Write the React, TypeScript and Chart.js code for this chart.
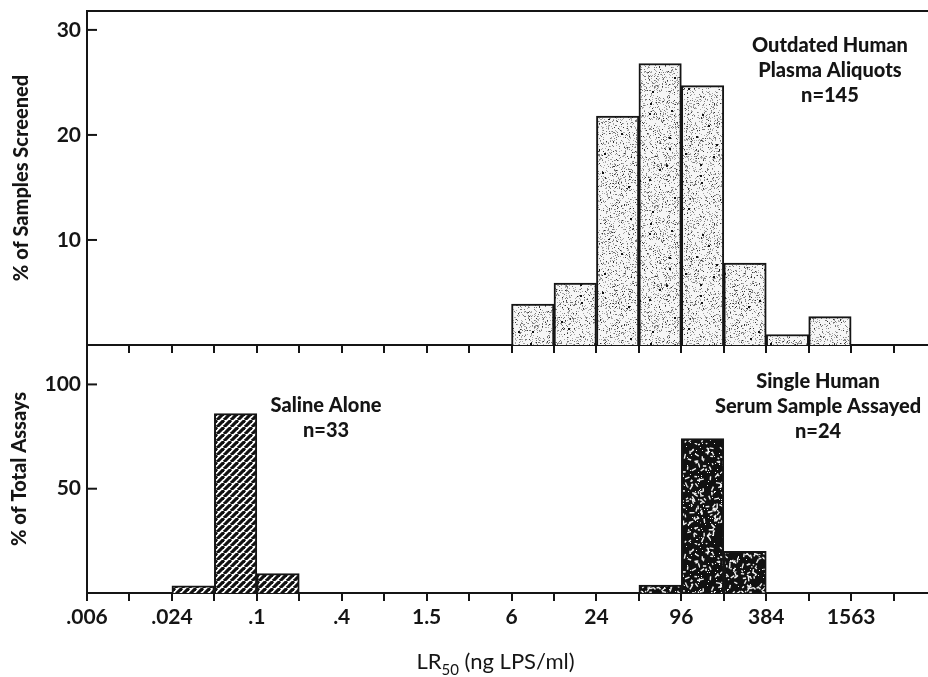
import React, { useEffect, useRef } from "react";
import { Chart, registerables } from "chart.js";

Chart.register(...registerables);

const FONT = "Lato";
const INK = "#151515";

// x axis: successive two-fold dilution steps (index = position on the axis)
const AXIS_STEPS = [".006", ".012", ".024", ".048", ".1", ".2", ".4", ".8", "1.5", "3", "6", "12", "24", "48", "96", "192", "384", "768", "1563", "3126"];
const LABELED_STEPS = [".006", ".024", ".1", ".4", "1.5", "6", "24", "96", "384", "1563"];
const X_RANGE_END = 19.81;

// top panel: outdated human plasma aliquots (bins given by lower edge)
const PLASMA_BINS = ["6", "12", "24", "48", "96", "192", "384", "768"];
const PLASMA_PCT = [3.9, 5.9, 21.8, 26.8, 24.7, 7.8, 1.0, 2.7];

// bottom panel
const SALINE_BINS = [".024", ".048", ".1"];
const SALINE_PCT = [3.4, 86, 9.3];
const SERUM_BINS = ["48", "96", "192"];
const SERUM_PCT = [3.8, 74, 20];

const TOP_Y_TICKS = [10, 20, 30];
const TOP_Y_MAX = 31.8;
const BOTTOM_Y_TICKS = [50, 100];
const BOTTOM_Y_MAX = 118.9;

const PLASMA_NOTE = ["Outdated Human", "Plasma Aliquots", "n=145"];
const SALINE_NOTE = ["Saline Alone", "n=33"];
const SERUM_NOTE = ["Single Human", "Serum Sample Assayed", "n=24"];

function rng(seed: number) {
  let s = seed >>> 0;
  return () => {
    s = (Math.imul(s, 1664525) + 1013904223) >>> 0;
    return s / 4294967296;
  };
}

function stipplePattern(ctx: CanvasRenderingContext2D) {
  const c = document.createElement("canvas");
  c.width = 120; c.height = 120;
  const g = c.getContext("2d")!;
  g.fillStyle = "#f6f6f6";
  g.fillRect(0, 0, 120, 120);
  const r = rng(7);
  for (let i = 0; i < 3200; i++) {
    const v = r();
    g.fillStyle = v < 0.55 ? "#a8a8a8" : v < 0.88 ? "#777" : "#333";
    g.fillRect(Math.floor(r() * 120), Math.floor(r() * 120), 1, 1);
  }
  for (let i = 0; i < 30; i++) {
    g.fillStyle = "#111";
    g.fillRect(Math.floor(r() * 120), Math.floor(r() * 120), 2, 2);
  }
  return ctx.createPattern(c, "repeat")!;
}

function hatchPattern(ctx: CanvasRenderingContext2D) {
  const n = 7;
  const c = document.createElement("canvas");
  c.width = n; c.height = n;
  const g = c.getContext("2d")!;
  g.fillStyle = "#fff";
  g.fillRect(0, 0, n, n);
  g.strokeStyle = "#111";
  g.lineWidth = 3.2;
  for (const o of [-n, 0, n]) {
    g.beginPath();
    g.moveTo(o, n);
    g.lineTo(o + n, 0);
    g.stroke();
  }
  return ctx.createPattern(c, "repeat")!;
}

function speckPattern(ctx: CanvasRenderingContext2D) {
  const c = document.createElement("canvas");
  c.width = 100; c.height = 100;
  const g = c.getContext("2d")!;
  g.fillStyle = "#111";
  g.fillRect(0, 0, 100, 100);
  const r = rng(21);
  g.strokeStyle = "#f2f2f2";
  g.lineWidth = 1.4;
  for (let i = 0; i < 420; i++) {
    const x = r() * 100, y = r() * 100, a = r() * Math.PI * 2, l = 1 + r() * 4;
    g.beginPath();
    g.moveTo(x, y);
    g.lineTo(x + Math.cos(a) * l, y + Math.sin(a) * l);
    g.stroke();
  }
  g.fillStyle = "#f2f2f2";
  for (let i = 0; i < 220; i++) g.fillRect(Math.floor(r() * 100), Math.floor(r() * 100), 1, 1);
  return ctx.createPattern(c, "repeat")!;
}

const toPoints = (bins: string[], pct: number[]) =>
  bins.map((b, i) => ({ x: AXIS_STEPS.indexOf(b) + 0.5, y: pct[i] }));

const framePlugin = {
  id: "frame",
  afterDraw(chart: any, _args: any, opts: any) {
    const { ctx, chartArea } = chart;
    const xs = chart.scales.x;
    const ys = chart.scales.y;
    ctx.save();
    ctx.strokeStyle = INK;
    ctx.lineWidth = 2;
    ys.ticks.forEach((t: any) => {
      const py = ys.getPixelForValue(t.value);
      ctx.beginPath();
      ctx.moveTo(chartArea.left, py);
      ctx.lineTo(chartArea.left + 10, py);
      ctx.stroke();
    });
    if (opts.topBorder) {
      ctx.beginPath();
      ctx.moveTo(chartArea.left - 1, chartArea.top);
      ctx.lineTo(chartArea.right, chartArea.top);
      ctx.stroke();
    }
    ctx.fillStyle = INK;
    ctx.font = `900 20px ${FONT}`;
    ctx.textAlign = "center";
    ctx.textBaseline = "middle";
    (opts.notes || []).forEach((n: any) => {
      const px = xs.getPixelForValue(n.x);
      const py = ys.getPixelForValue(n.y);
      n.lines.forEach((l: string, i: number) => ctx.fillText(l, px, py + i * 25));
    });
    if (opts.xTitle) {
      const big = `22px ${FONT}`;
      const small = `15px ${FONT}`;
      ctx.textAlign = "left";
      ctx.textBaseline = "alphabetic";
      ctx.font = big;
      const w1 = ctx.measureText("LR").width;
      const w3 = ctx.measureText(" (ng LPS/ml)").width;
      ctx.font = small;
      const w2 = ctx.measureText("50").width;
      const total = w1 + w2 + w3;
      const cx = (chartArea.left + chartArea.right) / 2 - 12;
      const x0 = cx - total / 2;
      const base = chartArea.bottom + 76;
      ctx.font = big;
      ctx.fillText("LR", x0, base);
      ctx.font = small;
      ctx.fillText("50", x0 + w1, base + 6);
      ctx.font = big;
      ctx.fillText(" (ng LPS/ml)", x0 + w1 + w2, base);
    }
    ctx.restore();
  },
};

function xScale(showLabels: boolean, height: number) {
  return {
    type: "linear",
    min: 0,
    max: X_RANGE_END,
    offset: false,
    afterBuildTicks: (s: any) => {
      s.ticks = AXIS_STEPS.map((_, i) => ({ value: i }));
    },
    afterFit: (s: any) => {
      s.height = height;
      s.paddingLeft = 0;
      s.paddingRight = 0;
    },
    grid: { offset: false, drawOnChartArea: false, drawTicks: true, tickLength: 8, color: INK, lineWidth: 2 },
    border: { display: true, color: INK, width: 2 },
    ticks: {
      display: showLabels,
      autoSkip: false,
      maxRotation: 0,
      padding: 4,
      color: INK,
      font: { family: FONT, size: 21, weight: "bold" },
      callback: (v: number) => {
        const lab = AXIS_STEPS[v];
        return LABELED_STEPS.includes(lab) ? lab : "";
      },
    },
  };
}

function yScale(ticks: number[], max: number, title: string, width: number, titlePad: number) {
  return {
    type: "linear",
    min: 0,
    max,
    afterBuildTicks: (s: any) => {
      s.ticks = ticks.map((v) => ({ value: v }));
    },
    afterFit: (s: any) => {
      s.width = width;
      s.paddingTop = 0;
      s.paddingBottom = 0;
    },
    grid: { display: false, drawTicks: false },
    border: { display: true, color: INK, width: 2 },
    ticks: { padding: 6, color: INK, font: { family: FONT, size: 21, weight: "bold" } },
    title: {
      display: true,
      text: title,
      color: INK,
      font: { family: FONT, size: 20, weight: "900" },
      padding: { top: titlePad, bottom: 0 },
    },
  };
}

export default function App() {
  const topRef = useRef<HTMLCanvasElement>(null);
  const botRef = useRef<HTMLCanvasElement>(null);

  useEffect(() => {
    const tctx = topRef.current!.getContext("2d")!;
    const bctx = botRef.current!.getContext("2d")!;
    const common = {
      responsive: false,
      animation: false,
      events: [],
      plugins: { legend: { display: false }, tooltip: { enabled: false } },
    };
    const barDefaults = {
      grouped: false,
      barPercentage: 1,
      categoryPercentage: 1,
      borderColor: INK,
      borderWidth: 2,
      borderSkipped: "bottom",
    };

    const top = new Chart(tctx, {
      type: "bar",
      data: {
        datasets: [
          { ...barDefaults, label: "Outdated Human Plasma Aliquots", data: toPoints(PLASMA_BINS, PLASMA_PCT), backgroundColor: stipplePattern(tctx) },
        ],
      },
      options: {
        ...common,
        layout: { padding: { top: 11, left: 0, right: 0, bottom: 0 } },
        scales: {
          x: xScale(false, 8),
          y: yScale(TOP_Y_TICKS, TOP_Y_MAX, "% of Samples Screened", 87, 10),
        },
        plugins: {
          ...common.plugins,
          frame: { topBorder: true, notes: [{ x: 17.5, y: 28.5, lines: PLASMA_NOTE }] },
        },
      } as any,
      plugins: [framePlugin],
    } as any);

    const bottom = new Chart(bctx, {
      type: "bar",
      data: {
        datasets: [
          { ...barDefaults, label: "Saline Alone", data: toPoints(SALINE_BINS, SALINE_PCT), backgroundColor: hatchPattern(bctx) },
          { ...barDefaults, label: "Single Human Serum Sample Assayed", data: toPoints(SERUM_BINS, SERUM_PCT), backgroundColor: speckPattern(bctx) },
        ],
      },
      options: {
        ...common,
        layout: { padding: { top: 2, left: 0, right: 0, bottom: 0 } },
        scales: {
          x: xScale(true, 84),
          y: yScale(BOTTOM_Y_TICKS, BOTTOM_Y_MAX, "% of Total Assays", 87, 8),
        },
        plugins: {
          ...common.plugins,
          frame: {
            topBorder: false,
            xTitle: true,
            notes: [
              { x: 5.63, y: 90.1, lines: SALINE_NOTE },
              { x: 17.22, y: 101.2, lines: SERUM_NOTE },
            ],
          },
        },
      } as any,
      plugins: [framePlugin],
    } as any);

    return () => {
      top.destroy();
      bottom.destroy();
    };
  }, []);

  return (
    <div style={{ position: "fixed", left: 0, top: 0, width: 928, height: 677, background: "#fff" }}>
      <canvas ref={botRef} width={928} height={334} style={{ position: "absolute", left: 0, top: 343, display: "block" }} />
      <canvas ref={topRef} width={928} height={353} style={{ position: "absolute", left: 0, top: 0, display: "block" }} />
    </div>
  );
}
